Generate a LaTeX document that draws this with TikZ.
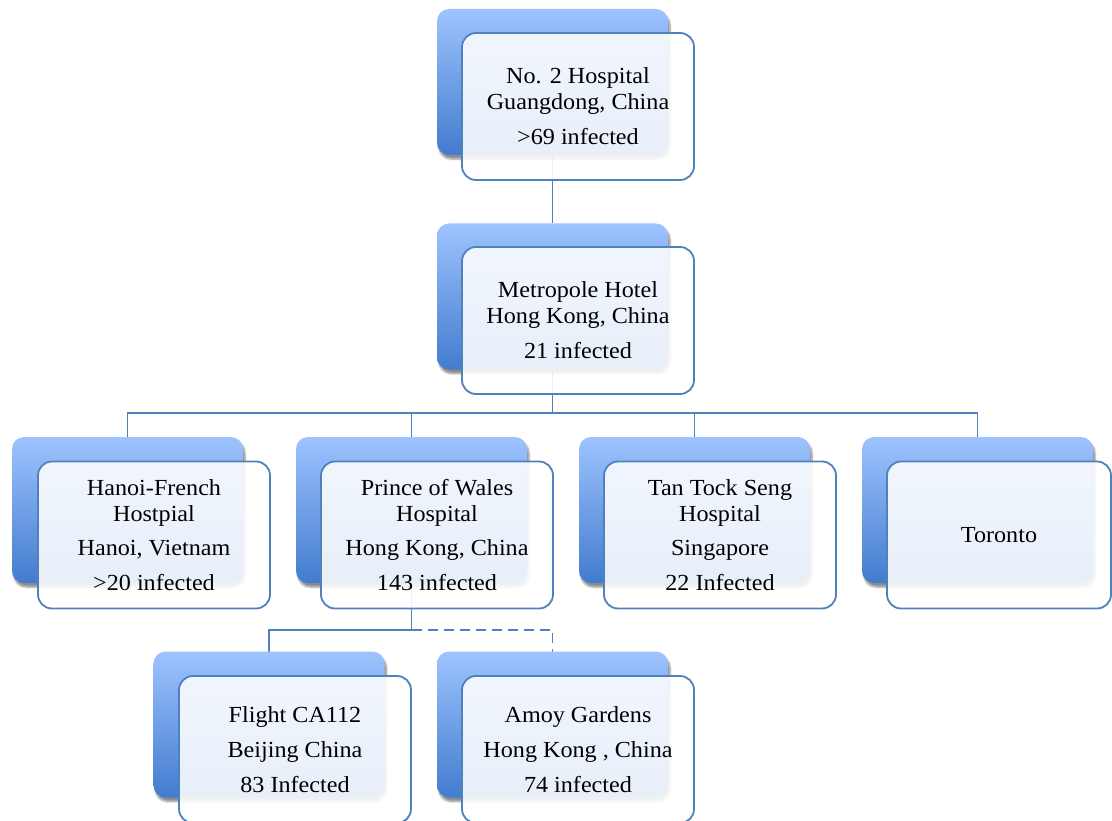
\documentclass[tikz,border=0pt]{standalone}
\usepackage{fontspec}
\setmainfont{Liberation Serif}[FakeStretch=1.05]
\usetikzlibrary{shadows.blur,backgrounds}
\definecolor{linec}{RGB}{79,129,189}
\definecolor{backtop}{RGB}{158,195,255}
\definecolor{backbot}{RGB}{66,124,206}
\tikzset{
  backbox/.style={rectangle, rounded corners=12pt, minimum width=231pt, minimum height=146pt,
    inner sep=0pt, outer sep=0pt, top color=backtop, bottom color=backbot, draw=none,
    blur shadow={shadow xshift=2pt, shadow yshift=-4pt, shadow blur steps=6, shadow opacity=45}},
  frontbox/.style={rectangle, rounded corners=14pt, minimum width=232pt, minimum height=147pt,
    inner sep=0pt, outer sep=0pt, fill=white, fill opacity=0.88, text opacity=1,
    draw=linec, draw opacity=1, line width=1.8pt, align=center,
    font=\fontsize{23}{26}\selectfont},
  conn/.style={draw=linec, line width=1.8pt},
  dconn/.style={conn, dash pattern=on 10pt off 6pt}
}
\begin{document}
\begin{tikzpicture}[x=1pt,y=-1pt]
\useasboundingbox (0,0) rectangle (1112,821);
% unit 1
\node[backbox] (b1) at (552.5,82) {};
\node[frontbox] (f1) at (578,106.5) {No. 2 Hospital\\Guangdong, China\\[9pt]>69 infected};
% unit 2
\node[backbox] (b2) at (552.5,296.5) {};
\node[frontbox] (f2) at (578,320.5) {Metropole Hotel\\Hong Kong, China\\[9pt]21 infected};
% row 3
\node[backbox] (bH) at (127.5,510) {};
\node[frontbox] (fH) at (154,535) {Hanoi-French\\Hostpial\\[8pt]Hanoi, Vietnam\\[9pt]>20 infected};
\node[backbox] (bP) at (411.5,510) {};
\node[frontbox] (fP) at (437,535) {Prince of Wales\\Hospital\\[8pt]Hong Kong, China\\[9pt]143 infected};
\node[backbox] (bT) at (694.5,510) {};
\node[frontbox] (fT) at (720,535) {Tan Tock Seng\\Hospital\\[8pt]Singapore\\[9pt]22 Infected};
\node[backbox] (bR) at (977.5,510) {};
\node[frontbox, minimum width=224pt] (fR) at (999,535) {Toronto};
% row 4
\node[backbox] (bF) at (269,724.5) {};
\node[frontbox] (fF) at (295,749.5) {Flight CA112\\[9pt]Beijing China\\[9pt]83 Infected};
\node[backbox] (bA) at (552.5,724.5) {};
\node[frontbox] (fA) at (578,749.5) {Amoy Gardens\\[9pt]Hong Kong , China\\[9pt]74 infected};
% connectors
\coordinate (j2) at (552.5,413);
\coordinate (j3) at (411.5,630);
\begin{pgfonlayer}{background}
\draw[conn] (b1.south) -- (b2.north);
\draw[conn] (b2.south) -- (j2) -| (bH.north);
\draw[conn] (j2) -| (bP.north);
\draw[conn] (j2) -| (bT.north);
\draw[conn] (j2) -| (bR.north);
\draw[conn] (bP.south) -- (j3) -| (bF.north);
\draw[dconn] (j3) -| (bA.north);
\end{pgfonlayer}
\end{tikzpicture}
\end{document}
